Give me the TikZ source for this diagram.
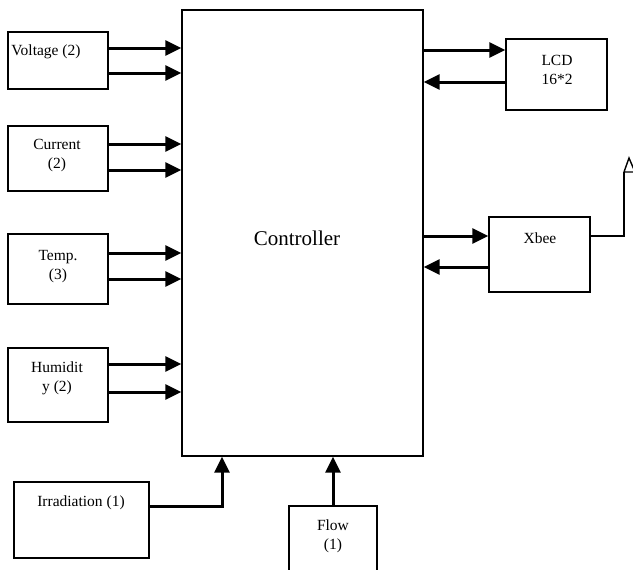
\documentclass[tikz,border=0pt]{standalone}
\usepackage{fontspec}
\setmainfont{Liberation Serif}
\usetikzlibrary{arrows.meta}
\begin{document}
\begin{tikzpicture}[x=1pt,y=-1pt,
  box/.style={draw,line width=1.4pt,inner sep=0pt},
  txt/.style={font=\fontsize{15.5}{19}\selectfont,align=center,inner sep=0pt},
  arr/.style={line width=3pt,-{Triangle[length=16pt,width=15pt]}},
  wire/.style={line width=1.4pt}]
\clip (0,0) rectangle (633,570);
\fill[white] (0,0) rectangle (633,570);
% boxes
\node[box,minimum width=241pt,minimum height=446pt] (ctrl) at (302.5,233) {};
\node[box,minimum width=100pt,minimum height=57pt] (volt) at (58,60.5) {};
\node[box,minimum width=100pt,minimum height=65pt] (curr) at (58,158.5) {};
\node[box,minimum width=100pt,minimum height=70pt] (temp) at (58,269) {};
\node[box,minimum width=100pt,minimum height=74pt] (humi) at (58,385) {};
\node[box,minimum width=135pt,minimum height=76pt] (irr) at (81.5,520) {};
\node[box,minimum width=88pt,minimum height=80pt] (flow) at (333,546) {};
\node[box,minimum width=101pt,minimum height=71pt] (lcd) at (556.5,74.5) {};
\node[box,minimum width=101pt,minimum height=75pt] (xbee) at (539.5,254.5) {};
% texts
\node[font=\fontsize{21}{25}\selectfont,inner sep=0pt] (ctrlT) at (297,238) {Controller};
\node[txt] (voltT) at (46,52) {Voltage (2)};
\node[txt] (currT) at (57,156) {Current\\(2)};
\node[txt] (tempT) at (58,267) {Temp.\\(3)};
\node[txt] (humiT) at (57,378) {Humidit\\y (2)};
\node[txt] (irrT) at (81,503) {Irradiation (1)};
\node[txt] (flowT) at (333,536) {Flow\\(1)};
\node[txt] (lcdT) at (557,70) {LCD\\16*2};
\node[txt] (xbeeT) at (540,238) {Xbee};
% input arrows
\foreach \n/\ya/\yb in {volt/48/73, curr/144/170, temp/253/279, humi/364/392} {
  \draw[arr] (\n.east |- 0,\ya) -- (ctrl.west |- 0,\ya);
  \draw[arr] (\n.east |- 0,\yb) -- (ctrl.west |- 0,\yb);
}
\draw[arr] (irr.east |- 0,506) -| (ctrl.south -| 222,0);
\draw[arr] (flow.north) -- (ctrl.south -| flow.north);
% outputs
\draw[arr] (ctrl.east |- 0,50) -- (lcd.west |- 0,50);
\draw[arr] (lcd.west |- 0,82) -- (ctrl.east |- 0,82);
\draw[arr] (ctrl.east |- 0,236) -- (xbee.west |- 0,236);
\draw[arr] (xbee.west |- 0,267) -- (ctrl.east |- 0,267);
% antenna
\coordinate (ant) at (624,172);
\draw[wire] (xbee.east |- 0,236) -| (ant);
\draw[wire] (ant) -- (629,158) -- (635,172) -- cycle;
\end{tikzpicture}
\end{document}
